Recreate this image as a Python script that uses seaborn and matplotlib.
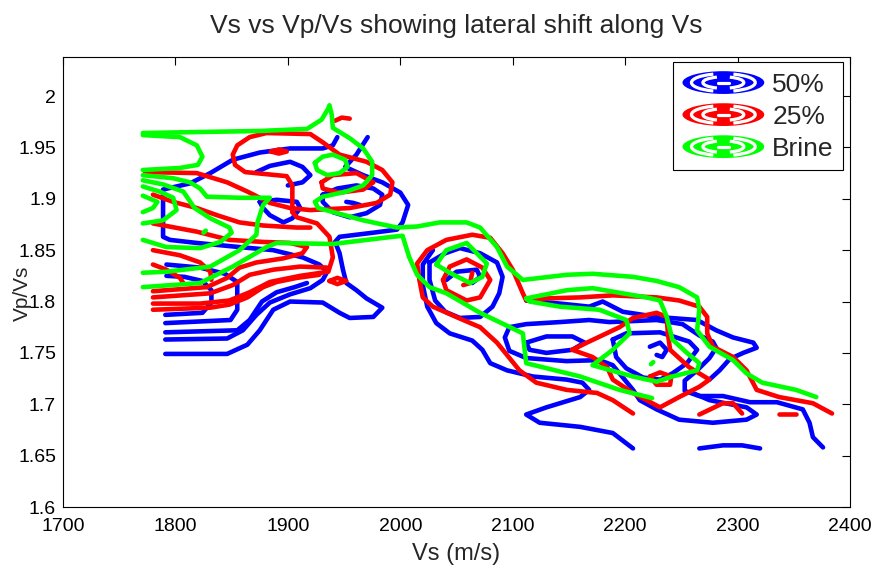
import matplotlib
matplotlib.use("Agg")
import matplotlib.pyplot as plt
import pandas as pd
import seaborn as sns
from matplotlib.legend_handler import HandlerBase
from matplotlib.patches import Ellipse, Arc
from matplotlib.lines import Line2D
from matplotlib.ticker import FixedLocator, FixedFormatter

# ---------------- data: traced contour lines (Vs [m/s], Vp/Vs) ----------------
# 50 % saturation (blue)
B50_1 = [(1791,1.749),(1846,1.749),(1864,1.758),(1875,1.772),(1887,1.792),(1902,1.800),(1931,1.799),
         (1946,1.789),(1955,1.784),(1976,1.785),(1984,1.794),(1970,1.803),(1961,1.811),(1952,1.818),
         (1949,1.831),(1946,1.847),(1942,1.858),(1946,1.863),(1976,1.867),(1997,1.870),(2002,1.877),
         (2007,1.894),(2000,1.906),(1984,1.916),(1967,1.923),(1951,1.931),(1961,1.943),(1971,1.960)]
B50_2 = [(1944,1.960),(1940,1.952),(1931,1.949),(1902,1.949),(1875,1.945),(1851,1.938),(1831,1.925),
         (1813,1.915),(1789,1.909),(1789,1.863),(1795,1.860),(1819,1.857),(1857,1.853),(1887,1.850),
         (1913,1.843),(1928,1.836),(1935,1.829),(1931,1.821),(1920,1.813),(1902,1.807),(1884,1.799),
         (1872,1.787),(1860,1.772),(1846,1.764),(1791,1.763)]
B50_3 = [(1791,1.779),(1849,1.782),(1855,1.792),(1855,1.819),(1844,1.827),(1822,1.833),(1792,1.836)]
B50_4 = [(1791,1.787),(1824,1.789),(1832,1.799),(1832,1.811),(1824,1.820),(1808,1.824),(1792,1.825)]
B50_5 = [(1791,1.770),(1855,1.772),(1866,1.782),(1877,1.800),(1890,1.809),(1906,1.814),(1917,1.818)]
B50_6 = [(1875,1.897),(1890,1.899),(1908,1.897),(1911,1.891),(1904,1.881),(1896,1.877),(1884,1.884),
         (1878,1.891),(1875,1.897)]
B50_7 = [(1872,1.926),(1884,1.932),(1902,1.936),(1913,1.931),(1920,1.923),(1913,1.916),(1900,1.913)]
B50_8 = [(1931,1.904),(1944,1.910),(1961,1.913),(1976,1.910),(1984,1.904),(1982,1.894),(1970,1.886),
         (1955,1.882),(1940,1.887),(1931,1.897),(1931,1.904)]
B50_9 = [(1952,1.897),(1958,1.896),(1964,1.894)]
B50_10 = [(2026,1.838),(2040,1.847),(2053,1.852),(2071,1.847),(2086,1.838),(2091,1.824),(2088,1.808),
          (2082,1.795),(2071,1.785),(2053,1.784),(2040,1.790),(2031,1.801),(2026,1.821),(2026,1.838)]
B50_11 = [(2041,1.821),(2050,1.829),(2068,1.831),(2071,1.824),(2064,1.818)]
B50_12 = [(2029,1.850),(2020,1.836),(2020,1.816),(2024,1.795),(2032,1.779),(2044,1.769),(2064,1.762),
          (2073,1.753),(2080,1.740),(2095,1.733),(2118,1.727),(2148,1.724),(2162,1.721),(2168,1.714),
          (2160,1.707),(2130,1.697),(2112,1.690),(2124,1.682),(2160,1.678),(2189,1.672),(2207,1.657)]
B50_13 = [(2112,1.801),(2142,1.798),(2168,1.795),(2180,1.800),(2198,1.790),(2228,1.785),(2264,1.782),
          (2281,1.772),(2296,1.765),(2314,1.760),(2317,1.755),(2305,1.750),(2293,1.744),(2284,1.733),
          (2275,1.724)]
B50_14 = [(2177,1.743),(2148,1.742),(2112,1.745),(2097,1.752),(2093,1.765),(2097,1.775),(2112,1.778),
          (2142,1.780),(2168,1.782),(2186,1.780),(2228,1.782),(2251,1.778),(2266,1.767),(2278,1.761),
          (2281,1.755),(2275,1.745),(2264,1.733),(2253,1.723),(2253,1.713),(2266,1.708),(2287,1.708),
          (2311,1.702),(2335,1.702),(2358,1.695),(2364,1.682),(2367,1.668),(2376,1.658)]
B50_15 = [(2112,1.760),(2130,1.766),(2153,1.766),(2164,1.760),(2153,1.753),(2130,1.750),(2115,1.753),
          (2112,1.760)]
B50_16 = [(2189,1.763),(2201,1.769),(2231,1.770),(2257,1.761),(2264,1.753),(2255,1.740),(2242,1.730),
          (2231,1.724),(2216,1.726),(2201,1.735),(2192,1.746),(2189,1.763)]
B50_17 = [(2222,1.756),(2231,1.760),(2237,1.753),(2233,1.746),(2228,1.748)]
B50_18 = [(2177,1.743),(2189,1.738),(2207,1.714),(2213,1.704),(2228,1.695),(2248,1.685),(2278,1.682),
          (2308,1.685),(2317,1.690),(2308,1.697),(2275,1.704),(2260,1.711)]
B50_19 = [(2266,1.657),(2287,1.660),(2304,1.660),(2320,1.657)]

# 25 % saturation (red)
R25_1 = [(1773,1.926),(1819,1.925),(1846,1.916),(1864,1.907),(1884,1.896),(1902,1.891),(1920,1.889),
         (1955,1.891),(1979,1.896),(1991,1.904),(1993,1.916),(1984,1.928),(1970,1.936),(1946,1.943),
         (1931,1.955),(1920,1.963),(1881,1.964),(1866,1.960),(1855,1.952),(1851,1.943),(1853,1.933),
         (1862,1.926),(1899,1.922),(1904,1.913),(1904,1.887)]
R25_2 = [(1904,1.887),(1908,1.882),(1926,1.876),(1937,1.863),(1940,1.843),(1936,1.829),(1911,1.825),
         (1884,1.819),(1866,1.809),(1848,1.801),(1822,1.798),(1780,1.798)]
R25_3 = [(1780,1.876),(1819,1.868),(1848,1.860),(1878,1.858),(1902,1.857),(1917,1.853),(1913,1.847),
         (1896,1.842),(1872,1.838),(1857,1.833),(1846,1.823),(1828,1.814),(1780,1.810)]
R25_4 = [(1780,1.904),(1798,1.897),(1819,1.891),(1837,1.884),(1857,1.877),(1878,1.874),(1908,1.872),
         (1920,1.872)]
R25_5 = [(1780,1.804),(1831,1.808),(1851,1.816),(1866,1.826),(1887,1.831),(1911,1.834),(1935,1.833)]
R25_6 = [(1780,1.792),(1831,1.794),(1848,1.797),(1864,1.804),(1878,1.814),(1890,1.819),(1908,1.823),
         (1928,1.826)]
R25_7 = [(1780,1.850),(1804,1.845),(1822,1.838),(1831,1.829),(1832,1.821)]
R25_8 = [(1780,1.836),(1792,1.831),(1804,1.823),(1807,1.818)]
R25_9 = [(1930,1.916),(1940,1.923),(1961,1.925),(1976,1.916),(1967,1.909),(1946,1.906),(1931,1.910),
         (1930,1.916)]
R25_10 = [(1942,1.976),(1948,1.979),(1955,1.978)]
R25_11 = [(1885,1.946),(1892,1.948),(1899,1.946),(1892,1.944),(1885,1.946)]
R25_12 = [(1937,1.820),(1944,1.823),(1952,1.820),(1944,1.817),(1937,1.820)]
R25_13 = [(2207,1.691),(2189,1.704),(2175,1.711),(2148,1.714),(2121,1.721),(2106,1.733),(2086,1.760),
          (2071,1.775),(2056,1.782),(2029,1.795),(2020,1.804),(2017,1.821),(2015,1.837),(2024,1.850),
          (2041,1.860),(2064,1.865),(2080,1.862),(2091,1.847),(2100,1.831),(2109,1.808),(2112,1.801),
          (2130,1.803),(2160,1.804),(2189,1.806),(2228,1.804),(2248,1.801),(2266,1.795),(2273,1.785),
          (2273,1.769),(2278,1.756),(2296,1.746),(2308,1.733),(2317,1.714),(2337,1.707),(2367,1.701),
          (2384,1.691)]
R25_14 = [(2038,1.821),(2044,1.834),(2059,1.841),(2073,1.833),(2080,1.821),(2071,1.804),(2059,1.801),
          (2041,1.811),(2038,1.821)]
R25_15 = [(2064,1.828),(2062,1.818),(2056,1.816)]
R25_16 = [(2153,1.753),(2166,1.760),(2195,1.775),(2207,1.784),(2228,1.789),(2237,1.785),(2238,1.769),
          (2240,1.753),(2257,1.736),(2275,1.724),(2266,1.717),(2248,1.707),(2231,1.697),(2207,1.711),
          (2189,1.724),(2184,1.736),(2171,1.746),(2153,1.753)]
R25_17 = [(2222,1.727),(2231,1.731),(2241,1.727),(2240,1.719),(2228,1.719),(2222,1.727)]
R25_18 = [(2266,1.690),(2287,1.701),(2296,1.701),(2304,1.691)]
R25_19 = [(2337,1.691),(2352,1.691)]

# Brine (green)
BR_1 = [(1771,1.964),(1822,1.965),(1875,1.966),(1917,1.968),(1930,1.977),(1936,1.988),(1937,1.991),
        (1939,1.982),(1940,1.969),(1955,1.959),(1967,1.949),(1975,1.936),(1975,1.923),(1967,1.913),
        (1952,1.907),(1931,1.902),(1924,1.897),(1927,1.891),(1944,1.886),(1967,1.879),(1997,1.872),
        (2015,1.873),(2035,1.877),(2059,1.877),(2071,1.872),(2086,1.853),(2095,1.834),(2109,1.821),
        (2148,1.826),(2171,1.827),(2207,1.824),(2228,1.820),(2248,1.814),(2264,1.804),(2266,1.792),
        (2264,1.772),(2275,1.756),(2296,1.743),(2308,1.730),(2322,1.721),(2352,1.714),(2370,1.707)]
BR_2 = [(1771,1.814),(1822,1.818),(1851,1.834),(1881,1.853),(1890,1.857),(1940,1.856),(1993,1.863),
        (2002,1.864),(2008,1.843),(2015,1.826),(2026,1.814),(2041,1.808),(2071,1.789),(2109,1.769),
        (2112,1.740),(2160,1.727),(2195,1.714),(2224,1.706)]
BR_3 = [(1771,1.962),(1804,1.960),(1819,1.952),(1824,1.941),(1820,1.933),(1804,1.930),(1771,1.928)]
BR_4 = [(1771,1.923),(1798,1.920),(1813,1.916),(1822,1.910),(1828,1.902),(1857,1.901),(1884,1.901),
        (1878,1.894),(1873,1.877),(1872,1.865),(1857,1.850),(1831,1.834),(1792,1.829),(1771,1.828)]
BR_5 = [(1771,1.918),(1789,1.914),(1807,1.907),(1817,1.891),(1831,1.881),(1848,1.872),(1850,1.867),
        (1840,1.858),(1822,1.852),(1792,1.853),(1771,1.860)]
BR_6 = [(1771,1.912),(1786,1.907),(1798,1.901),(1801,1.889),(1789,1.879),(1771,1.876)]
BR_7 = [(1771,1.903),(1784,1.897),(1780,1.891),(1771,1.887)]
BR_8 = [(1924,1.935),(1931,1.941),(1940,1.943),(1951,1.938),(1953,1.931),(1946,1.925),(1935,1.923),
        (1926,1.928),(1924,1.935)]
BR_9 = [(2032,1.836),(2041,1.850),(2059,1.857),(2077,1.837),(2073,1.824),(2062,1.818),(2044,1.828),
        (2032,1.836)]
BR_10 = [(2112,1.803),(2148,1.811),(2171,1.813),(2219,1.804),(2231,1.801),(2237,1.785),(2242,1.763),
         (2255,1.750),(2266,1.740),(2264,1.733),(2242,1.727),(2228,1.722),(2207,1.727),(2171,1.738),
         (2189,1.753),(2204,1.769),(2201,1.782),(2177,1.792),(2142,1.795),(2115,1.800),(2112,1.803)]
BR_11 = [(1825,1.867),(1827,1.869)]
BR_12 = [(2223,1.739),(2225,1.741)]

SERIES_LABELS = ["50%", "25%", "Brine"]
SERIES_COLORS = ["#0000ff", "#ff0000", "#00ff00"]
SERIES_LINES = [
    [B50_1, B50_2, B50_3, B50_4, B50_5, B50_6, B50_7, B50_8, B50_9, B50_10, B50_11, B50_12,
     B50_13, B50_14, B50_15, B50_16, B50_17, B50_18, B50_19],
    [R25_1, R25_2, R25_3, R25_4, R25_5, R25_6, R25_7, R25_8, R25_9, R25_10, R25_11, R25_12,
     R25_13, R25_14, R25_15, R25_16, R25_17, R25_18, R25_19],
    [BR_1, BR_2, BR_3, BR_4, BR_5, BR_6, BR_7, BR_8, BR_9, BR_10, BR_11, BR_12],
]
X_TICKS = [1700, 1800, 1900, 2000, 2100, 2200, 2300, 2400]
Y_TICKS = [1.6, 1.65, 1.7, 1.75, 1.8, 1.85, 1.9, 1.95, 2.0]
Y_TICK_LABELS = ["1.6", "1.65", "1.7", "1.75", "1.8", "1.85", "1.9", "1.95", "2"]

# ---------------- build table ----------------
rows = []
for label, lines in zip(SERIES_LABELS, SERIES_LINES):
    for k, line in enumerate(lines):
        for i, (vs, r) in enumerate(line):
            rows.append({"series": label, "stroke": f"{label}_{k}", "order": i, "Vs": vs, "VpVs": r})
df = pd.DataFrame(rows)

# ---------------- plot ----------------
sns.set_style("white")
plt.rcParams["font.family"] = ["Liberation Sans", "DejaVu Sans"]

fig = plt.figure(figsize=(8.9, 5.79), dpi=100)
ax = fig.add_axes([63 / 890, (579 - 507) / 579, (850 - 63) / 890, (507 - 57) / 579])

for label, color in zip(SERIES_LABELS, SERIES_COLORS):
    sub = df[df["series"] == label]
    sns.lineplot(data=sub, x="Vs", y="VpVs", units="stroke", estimator=None, sort=False,
                 color=color, lw=3.3, ax=ax, legend=False)

ax.set_xlim(1700, 2400)
ax.set_ylim(1.6, 2.038)
ax.xaxis.set_major_locator(FixedLocator(X_TICKS))
ax.yaxis.set_major_locator(FixedLocator(Y_TICKS))
ax.yaxis.set_major_formatter(FixedFormatter(Y_TICK_LABELS))
ax.tick_params(direction="in", length=6, width=0.8, top=True, right=True,
               labelsize=14, colors="black")
ax.tick_params(axis="x", pad=8)
ax.tick_params(axis="y", pad=5)
for s in ax.spines.values():
    s.set_color("black")
    s.set_linewidth(0.8)
ax.set_xlabel("Vs (m/s)", fontsize=17, labelpad=6)
ax.set_ylabel("Vp/Vs", fontsize=15)
ax.yaxis.set_label_coords(-0.04, 0.475)
ax.set_title("Vs vs Vp/Vs showing lateral shift along Vs", fontsize=19, pad=17)


class Key:
    def __init__(self, color):
        self.color = color


class ContourKey(HandlerBase):
    def create_artists(self, legend, orig, xd, yd, w, h, fs, trans):
        cx, cy = -xd + w / 2, -yd + h / 2
        eh = h * 1.0
        arts = [Ellipse((cx, cy), w, eh, facecolor=orig.color, edgecolor="none",
                        transform=trans)]
        for f in (0.78, 0.5):
            for t1, t2 in ((140, 220), (-40, 40)):
                arts.append(Arc((cx, cy), w * f, eh * f, theta1=t1, theta2=t2,
                                color="white", lw=2.3, transform=trans))
        arts.append(Line2D([cx - w * 0.07, cx + w * 0.07], [cy, cy], color="white", lw=2.3,
                           transform=trans))
        return arts


keys = [Key(c) for c in SERIES_COLORS]
leg = ax.legend(keys, SERIES_LABELS, handler_map={Key: ContourKey()}, loc="upper right",
                bbox_to_anchor=(0.991, 0.989), borderaxespad=0, fontsize=19,
                handlelength=3.1, handleheight=0.95, handletextpad=0.3, labelspacing=0.25,
                borderpad=0.35, fancybox=False, framealpha=1, edgecolor="black")
leg.get_frame().set_linewidth(0.8)

fig.savefig("out.png", dpi=100)
